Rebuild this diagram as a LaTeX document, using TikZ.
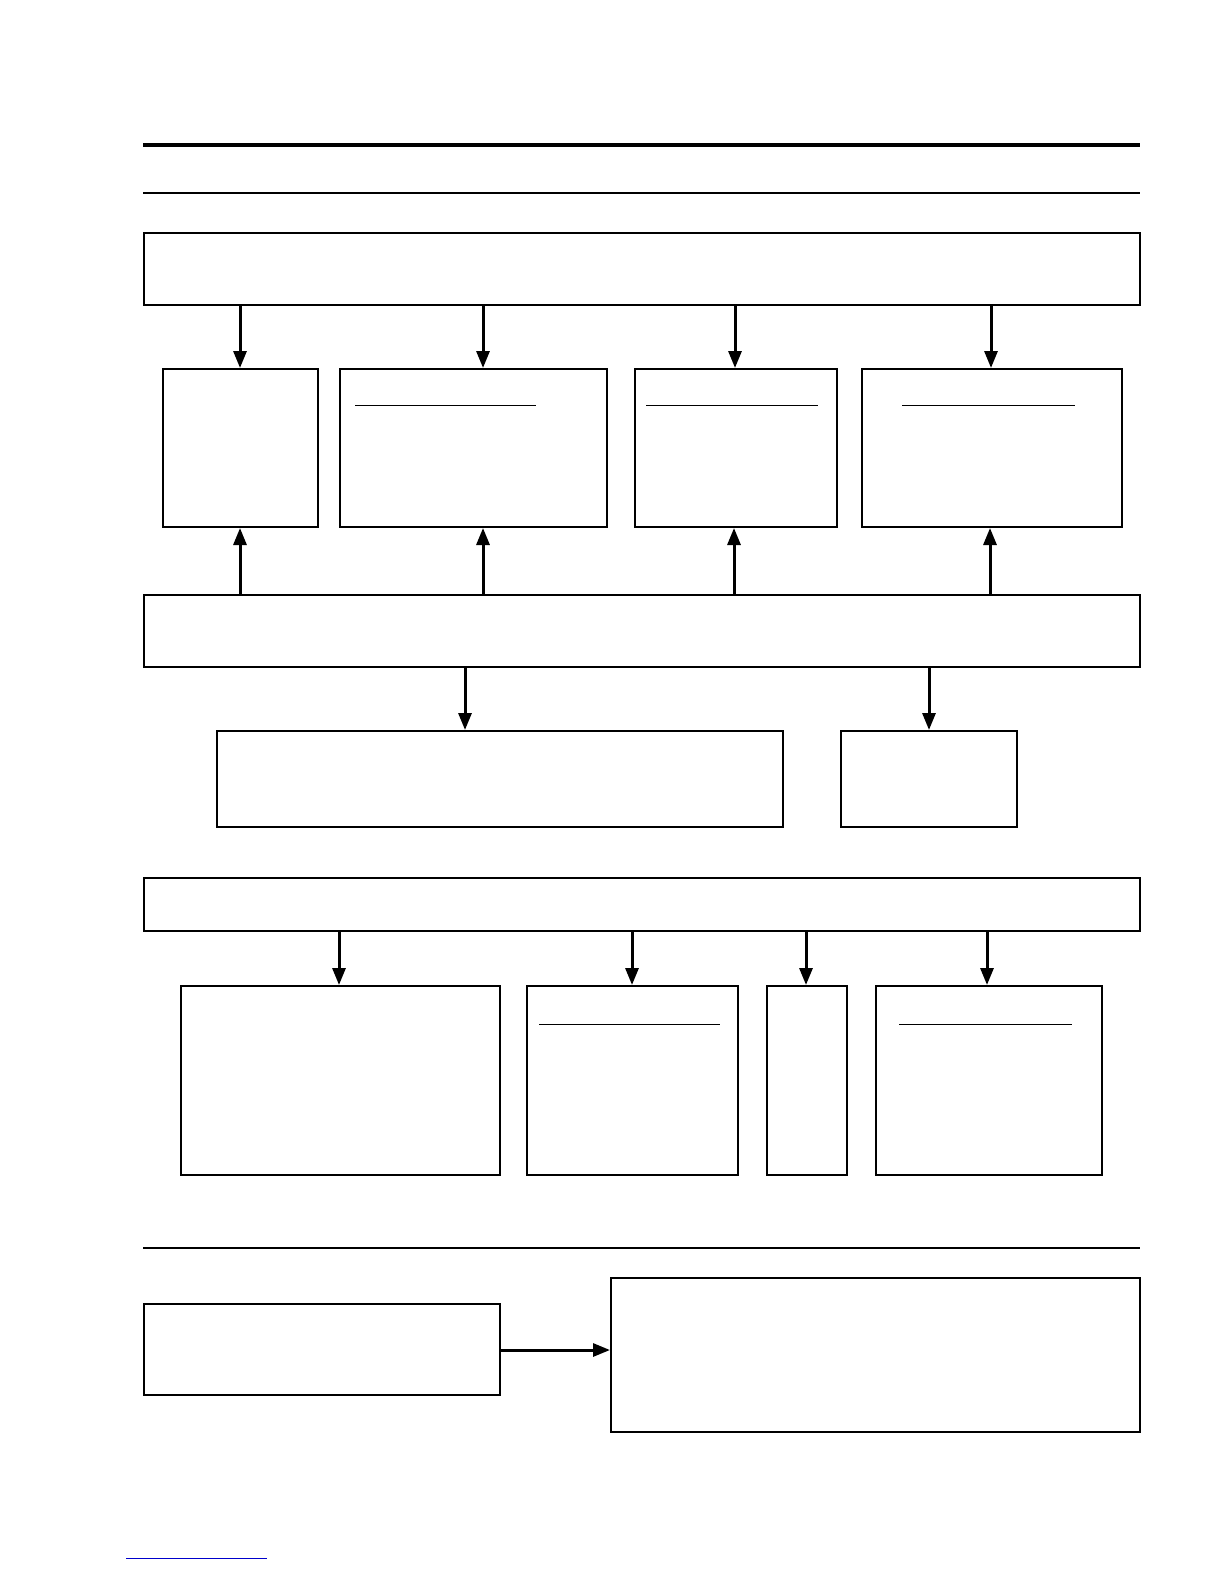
\documentclass[tikz,border=0pt]{standalone}
\usetikzlibrary{arrows.meta}
\begin{document}
\begin{tikzpicture}[x=1pt,y=-1pt,
  bx/.style={draw,line width=1.6pt,inner sep=0pt},
  ar/.style={line width=3pt,-{Triangle[length=17pt,width=13pt]}},
  ul/.style={line width=1pt}]
\useasboundingbox (0,0) rectangle (1224,1584);
\draw[line width=4pt] (143,145) -- (1140,145);
\draw[line width=1.5pt] (143,193) -- (1140,193);
\draw[line width=1.5pt] (143,1248) -- (1140,1248);
\draw[blue!80!black,line width=1pt] (126,1558) -- (267,1558);
% boxes
\draw[bx] (144,233) rectangle (1140,305) coordinate (A);
\draw[bx] (163,369) rectangle (318,527);
\draw[bx] (340,369) rectangle (607,527);
\draw[bx] (635,369) rectangle (837,527);
\draw[bx] (862,369) rectangle (1122,527);
\draw[ul] (355,405) -- (536,405);
\draw[ul] (646,405) -- (818,405);
\draw[ul] (902,405) -- (1075,405);
\draw[bx] (144,595) rectangle (1140,667);
\draw[bx] (217,731) rectangle (783,827);
\draw[bx] (841,731) rectangle (1017,827);
\draw[bx] (144,878) rectangle (1140,931);
\draw[bx] (181,986) rectangle (500,1175);
\draw[bx] (527,986) rectangle (738,1175);
\draw[bx] (767,986) rectangle (847,1175);
\draw[bx] (876,986) rectangle (1102,1175);
\draw[ul] (539,1024) -- (720,1024);
\draw[ul] (899,1024) -- (1072,1024);
\draw[bx] (144,1304) rectangle (500,1395);
\draw[bx] (611,1278) rectangle (1140,1432);
% arrows
\foreach \x in {240,483,735,991} \draw[ar] (\x,306) -- (\x,368);
\foreach \x in {240,483,734,990} \draw[ar] (\x,594) -- (\x,528);
\foreach \x in {465,929} \draw[ar] (\x,668) -- (\x,730);
\foreach \x in {339,632,806,987} \draw[ar] (\x,932) -- (\x,985);
\draw[ar] (501,1350) -- (610,1350);
\end{tikzpicture}
\end{document}
